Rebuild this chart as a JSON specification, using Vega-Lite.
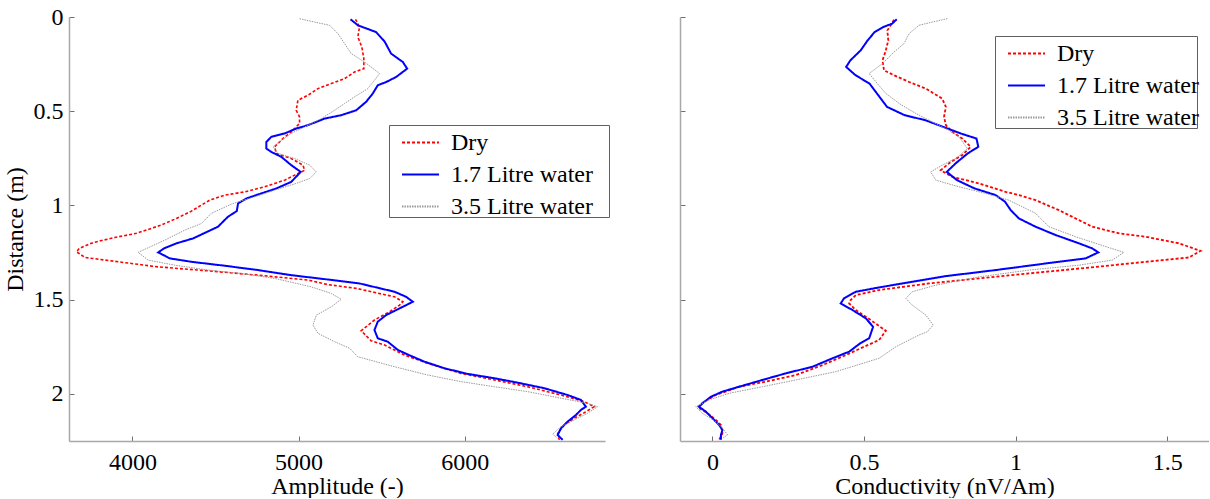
{
"$schema":"https://vega.github.io/schema/vega-lite/v6.json",
"padding":{"left":3,"top":5,"right":0,"bottom":0},
"spacing":69,
"datasets":{
"amp":[
{"s":"Dry","d":0.012,"v":5343},{"s":"Dry","d":0.053,"v":5367},{"s":"Dry","d":0.106,"v":5357},{"s":"Dry","d":0.159,"v":5381},{"s":"Dry","d":0.221,"v":5393},{"s":"Dry","d":0.274,"v":5393},{"s":"Dry","d":0.292,"v":5337},{"s":"Dry","d":0.327,"v":5277},{"s":"Dry","d":0.353,"v":5197},{"s":"Dry","d":0.38,"v":5117},{"s":"Dry","d":0.415,"v":5057},{"s":"Dry","d":0.442,"v":4996},{"s":"Dry","d":0.495,"v":4986},{"s":"Dry","d":0.53,"v":5006},{"s":"Dry","d":0.565,"v":5006},{"s":"Dry","d":0.61,"v":4956},{"s":"Dry","d":0.645,"v":4906},{"s":"Dry","d":0.689,"v":4856},{"s":"Dry","d":0.724,"v":4866},{"s":"Dry","d":0.751,"v":4956},{"s":"Dry","d":0.786,"v":5026},{"s":"Dry","d":0.813,"v":5037},{"s":"Dry","d":0.839,"v":4977},{"s":"Dry","d":0.866,"v":4916},{"s":"Dry","d":0.901,"v":4796},{"s":"Dry","d":0.928,"v":4676},{"s":"Dry","d":0.945,"v":4556},{"s":"Dry","d":0.972,"v":4465},{"s":"Dry","d":1.03,"v":4355},{"s":"Dry","d":1.069,"v":4265},{"s":"Dry","d":1.104,"v":4174},{"s":"Dry","d":1.148,"v":4024},{"s":"Dry","d":1.17,"v":3894},{"s":"Dry","d":1.197,"v":3763},{"s":"Dry","d":1.228,"v":3680},{"s":"Dry","d":1.246,"v":3663},{"s":"Dry","d":1.276,"v":3714},{"s":"Dry","d":1.299,"v":3914},{"s":"Dry","d":1.326,"v":4155},{"s":"Dry","d":1.347,"v":4455},{"s":"Dry","d":1.37,"v":4756},{"s":"Dry","d":1.396,"v":5057},{"s":"Dry","d":1.42,"v":5177},{"s":"Dry","d":1.44,"v":5347},{"s":"Dry","d":1.485,"v":5578},{"s":"Dry","d":1.511,"v":5628},{"s":"Dry","d":1.529,"v":5608},{"s":"Dry","d":1.564,"v":5548},{"s":"Dry","d":1.608,"v":5457},{"s":"Dry","d":1.665,"v":5377},{"s":"Dry","d":1.718,"v":5437},{"s":"Dry","d":1.741,"v":5518},{"s":"Dry","d":1.794,"v":5638},{"s":"Dry","d":1.838,"v":5778},{"s":"Dry","d":1.891,"v":5978},{"s":"Dry","d":1.926,"v":6179},{"s":"Dry","d":1.962,"v":6379},{"s":"Dry","d":2.006,"v":6580},{"s":"Dry","d":2.041,"v":6720},{"s":"Dry","d":2.068,"v":6780},{"s":"Dry","d":2.1,"v":6720},{"s":"Dry","d":2.129,"v":6660},{"s":"Dry","d":2.165,"v":6600},{"s":"Dry","d":2.209,"v":6560},{"s":"Dry","d":2.244,"v":6570},
{"s":"1.7 Litre water","d":0.012,"v":5313},{"s":"1.7 Litre water","d":0.044,"v":5357},{"s":"1.7 Litre water","d":0.08,"v":5467},{"s":"1.7 Litre water","d":0.13,"v":5518},{"s":"1.7 Litre water","d":0.194,"v":5557},{"s":"1.7 Litre water","d":0.239,"v":5628},{"s":"1.7 Litre water","d":0.274,"v":5654},{"s":"1.7 Litre water","d":0.318,"v":5588},{"s":"1.7 Litre water","d":0.345,"v":5528},{"s":"1.7 Litre water","d":0.362,"v":5477},{"s":"1.7 Litre water","d":0.406,"v":5447},{"s":"1.7 Litre water","d":0.45,"v":5407},{"s":"1.7 Litre water","d":0.495,"v":5347},{"s":"1.7 Litre water","d":0.521,"v":5257},{"s":"1.7 Litre water","d":0.539,"v":5157},{"s":"1.7 Litre water","d":0.574,"v":5057},{"s":"1.7 Litre water","d":0.592,"v":4986},{"s":"1.7 Litre water","d":0.618,"v":4916},{"s":"1.7 Litre water","d":0.636,"v":4836},{"s":"1.7 Litre water","d":0.663,"v":4806},{"s":"1.7 Litre water","d":0.698,"v":4806},{"s":"1.7 Litre water","d":0.716,"v":4836},{"s":"1.7 Litre water","d":0.742,"v":4896},{"s":"1.7 Litre water","d":0.786,"v":4956},{"s":"1.7 Litre water","d":0.822,"v":5013},{"s":"1.7 Litre water","d":0.875,"v":4956},{"s":"1.7 Litre water","d":0.91,"v":4866},{"s":"1.7 Litre water","d":0.936,"v":4776},{"s":"1.7 Litre water","d":0.963,"v":4686},{"s":"1.7 Litre water","d":0.989,"v":4636},{"s":"1.7 Litre water","d":1.03,"v":4628},{"s":"1.7 Litre water","d":1.06,"v":4575},{"s":"1.7 Litre water","d":1.113,"v":4515},{"s":"1.7 Litre water","d":1.148,"v":4430},{"s":"1.7 Litre water","d":1.175,"v":4365},{"s":"1.7 Litre water","d":1.201,"v":4265},{"s":"1.7 Litre water","d":1.228,"v":4190},{"s":"1.7 Litre water","d":1.249,"v":4155},{"s":"1.7 Litre water","d":1.281,"v":4225},{"s":"1.7 Litre water","d":1.299,"v":4355},{"s":"1.7 Litre water","d":1.32,"v":4556},{"s":"1.7 Litre water","d":1.343,"v":4756},{"s":"1.7 Litre water","d":1.37,"v":4956},{"s":"1.7 Litre water","d":1.391,"v":5157},{"s":"1.7 Litre water","d":1.414,"v":5367},{"s":"1.7 Litre water","d":1.458,"v":5578},{"s":"1.7 Litre water","d":1.485,"v":5648},{"s":"1.7 Litre water","d":1.511,"v":5688},{"s":"1.7 Litre water","d":1.529,"v":5648},{"s":"1.7 Litre water","d":1.555,"v":5588},{"s":"1.7 Litre water","d":1.582,"v":5527},{"s":"1.7 Litre water","d":1.617,"v":5477},{"s":"1.7 Litre water","d":1.661,"v":5457},{"s":"1.7 Litre water","d":1.705,"v":5477},{"s":"1.7 Litre water","d":1.723,"v":5537},{"s":"1.7 Litre water","d":1.767,"v":5598},{"s":"1.7 Litre water","d":1.799,"v":5678},{"s":"1.7 Litre water","d":1.829,"v":5758},{"s":"1.7 Litre water","d":1.864,"v":5878},{"s":"1.7 Litre water","d":1.894,"v":6019},{"s":"1.7 Litre water","d":1.917,"v":6179},{"s":"1.7 Litre water","d":1.944,"v":6339},{"s":"1.7 Litre water","d":1.97,"v":6480},{"s":"1.7 Litre water","d":2.006,"v":6620},{"s":"1.7 Litre water","d":2.032,"v":6700},{"s":"1.7 Litre water","d":2.068,"v":6730},{"s":"1.7 Litre water","d":2.085,"v":6700},{"s":"1.7 Litre water","d":2.112,"v":6670},{"s":"1.7 Litre water","d":2.147,"v":6620},{"s":"1.7 Litre water","d":2.182,"v":6580},{"s":"1.7 Litre water","d":2.218,"v":6560},{"s":"1.7 Litre water","d":2.244,"v":6590},
{"s":"3.5 Litre water","d":0.009,"v":5006},{"s":"3.5 Litre water","d":0.027,"v":5097},{"s":"3.5 Litre water","d":0.044,"v":5187},{"s":"3.5 Litre water","d":0.088,"v":5237},{"s":"3.5 Litre water","d":0.141,"v":5277},{"s":"3.5 Litre water","d":0.194,"v":5317},{"s":"3.5 Litre water","d":0.239,"v":5397},{"s":"3.5 Litre water","d":0.3,"v":5488},{"s":"3.5 Litre water","d":0.336,"v":5457},{"s":"3.5 Litre water","d":0.38,"v":5417},{"s":"3.5 Litre water","d":0.424,"v":5337},{"s":"3.5 Litre water","d":0.459,"v":5277},{"s":"3.5 Litre water","d":0.495,"v":5217},{"s":"3.5 Litre water","d":0.539,"v":5137},{"s":"3.5 Litre water","d":0.583,"v":5037},{"s":"3.5 Litre water","d":0.618,"v":4956},{"s":"3.5 Litre water","d":0.654,"v":4896},{"s":"3.5 Litre water","d":0.689,"v":4846},{"s":"3.5 Litre water","d":0.724,"v":4876},{"s":"3.5 Litre water","d":0.751,"v":4976},{"s":"3.5 Litre water","d":0.786,"v":5067},{"s":"3.5 Litre water","d":0.822,"v":5107},{"s":"3.5 Litre water","d":0.857,"v":5067},{"s":"3.5 Litre water","d":0.883,"v":4986},{"s":"3.5 Litre water","d":0.919,"v":4856},{"s":"3.5 Litre water","d":0.954,"v":4736},{"s":"3.5 Litre water","d":0.98,"v":4640},{"s":"3.5 Litre water","d":0.993,"v":4595},{"s":"3.5 Litre water","d":1.042,"v":4475},{"s":"3.5 Litre water","d":1.096,"v":4415},{"s":"3.5 Litre water","d":1.131,"v":4315},{"s":"3.5 Litre water","d":1.184,"v":4195},{"s":"3.5 Litre water","d":1.249,"v":4034},{"s":"3.5 Litre water","d":1.29,"v":4094},{"s":"3.5 Litre water","d":1.317,"v":4255},{"s":"3.5 Litre water","d":1.343,"v":4455},{"s":"3.5 Litre water","d":1.361,"v":4655},{"s":"3.5 Litre water","d":1.387,"v":4856},{"s":"3.5 Litre water","d":1.432,"v":5076},{"s":"3.5 Litre water","d":1.467,"v":5197},{"s":"3.5 Litre water","d":1.498,"v":5257},{"s":"3.5 Litre water","d":1.538,"v":5197},{"s":"3.5 Litre water","d":1.582,"v":5107},{"s":"3.5 Litre water","d":1.635,"v":5087},{"s":"3.5 Litre water","d":1.679,"v":5117},{"s":"3.5 Litre water","d":1.723,"v":5217},{"s":"3.5 Litre water","d":1.758,"v":5307},{"s":"3.5 Litre water","d":1.803,"v":5357},{"s":"3.5 Litre water","d":1.856,"v":5578},{"s":"3.5 Litre water","d":1.9,"v":5778},{"s":"3.5 Litre water","d":1.935,"v":5978},{"s":"3.5 Litre water","d":1.962,"v":6179},{"s":"3.5 Litre water","d":1.988,"v":6379},{"s":"3.5 Litre water","d":2.023,"v":6580},{"s":"3.5 Litre water","d":2.05,"v":6740},{"s":"3.5 Litre water","d":2.068,"v":6800},{"s":"3.5 Litre water","d":2.103,"v":6740},{"s":"3.5 Litre water","d":2.138,"v":6660},{"s":"3.5 Litre water","d":2.174,"v":6580},{"s":"3.5 Litre water","d":2.213,"v":6530},{"s":"3.5 Litre water","d":2.236,"v":6560}
],
"cond":[
{"s":"Dry","d":0.014,"v":0.599},{"s":"Dry","d":0.044,"v":0.588},{"s":"Dry","d":0.071,"v":0.577},{"s":"Dry","d":0.124,"v":0.58},{"s":"Dry","d":0.177,"v":0.572},{"s":"Dry","d":0.23,"v":0.561},{"s":"Dry","d":0.283,"v":0.566},{"s":"Dry","d":0.309,"v":0.599},{"s":"Dry","d":0.345,"v":0.649},{"s":"Dry","d":0.38,"v":0.704},{"s":"Dry","d":0.433,"v":0.758},{"s":"Dry","d":0.477,"v":0.77},{"s":"Dry","d":0.53,"v":0.764},{"s":"Dry","d":0.574,"v":0.77},{"s":"Dry","d":0.61,"v":0.791},{"s":"Dry","d":0.645,"v":0.824},{"s":"Dry","d":0.689,"v":0.852},{"s":"Dry","d":0.733,"v":0.824},{"s":"Dry","d":0.769,"v":0.786},{"s":"Dry","d":0.813,"v":0.753},{"s":"Dry","d":0.848,"v":0.791},{"s":"Dry","d":0.883,"v":0.879},{"s":"Dry","d":0.928,"v":0.967},{"s":"Dry","d":0.945,"v":1.011},{"s":"Dry","d":0.972,"v":1.066},{"s":"Dry","d":1.025,"v":1.143},{"s":"Dry","d":1.069,"v":1.198},{"s":"Dry","d":1.113,"v":1.253},{"s":"Dry","d":1.148,"v":1.341},{"s":"Dry","d":1.166,"v":1.429},{"s":"Dry","d":1.201,"v":1.539},{"s":"Dry","d":1.241,"v":1.61},{"s":"Dry","d":1.276,"v":1.572},{"s":"Dry","d":1.299,"v":1.429},{"s":"Dry","d":1.326,"v":1.264},{"s":"Dry","d":1.361,"v":1.044},{"s":"Dry","d":1.387,"v":0.879},{"s":"Dry","d":1.414,"v":0.714},{"s":"Dry","d":1.449,"v":0.549},{"s":"Dry","d":1.476,"v":0.473},{"s":"Dry","d":1.502,"v":0.456},{"s":"Dry","d":1.52,"v":0.451},{"s":"Dry","d":1.555,"v":0.473},{"s":"Dry","d":1.608,"v":0.522},{"s":"Dry","d":1.665,"v":0.572},{"s":"Dry","d":1.714,"v":0.55},{"s":"Dry","d":1.75,"v":0.5},{"s":"Dry","d":1.794,"v":0.44},{"s":"Dry","d":1.847,"v":0.363},{"s":"Dry","d":1.9,"v":0.275},{"s":"Dry","d":1.935,"v":0.176},{"s":"Dry","d":1.962,"v":0.088},{"s":"Dry","d":2.006,"v":0.011},{"s":"Dry","d":2.041,"v":-0.027},{"s":"Dry","d":2.071,"v":-0.049},{"s":"Dry","d":2.103,"v":-0.016},{"s":"Dry","d":2.138,"v":0.011},{"s":"Dry","d":2.165,"v":0.028},{"s":"Dry","d":2.209,"v":0.033},{"s":"Dry","d":2.244,"v":0.022},
{"s":"1.7 Litre water","d":0.012,"v":0.608},{"s":"1.7 Litre water","d":0.035,"v":0.593},{"s":"1.7 Litre water","d":0.053,"v":0.564},{"s":"1.7 Litre water","d":0.08,"v":0.535},{"s":"1.7 Litre water","d":0.124,"v":0.512},{"s":"1.7 Litre water","d":0.177,"v":0.489},{"s":"1.7 Litre water","d":0.23,"v":0.455},{"s":"1.7 Litre water","d":0.265,"v":0.441},{"s":"1.7 Litre water","d":0.309,"v":0.472},{"s":"1.7 Litre water","d":0.353,"v":0.518},{"s":"1.7 Litre water","d":0.415,"v":0.547},{"s":"1.7 Litre water","d":0.477,"v":0.576},{"s":"1.7 Litre water","d":0.521,"v":0.634},{"s":"1.7 Litre water","d":0.548,"v":0.703},{"s":"1.7 Litre water","d":0.583,"v":0.761},{"s":"1.7 Litre water","d":0.618,"v":0.819},{"s":"1.7 Litre water","d":0.645,"v":0.871},{"s":"1.7 Litre water","d":0.689,"v":0.877},{"s":"1.7 Litre water","d":0.724,"v":0.842},{"s":"1.7 Litre water","d":0.777,"v":0.802},{"s":"1.7 Litre water","d":0.822,"v":0.773},{"s":"1.7 Litre water","d":0.866,"v":0.807},{"s":"1.7 Litre water","d":0.91,"v":0.865},{"s":"1.7 Litre water","d":0.945,"v":0.934},{"s":"1.7 Litre water","d":0.98,"v":0.965},{"s":"1.7 Litre water","d":1.025,"v":0.984},{"s":"1.7 Litre water","d":1.069,"v":1.011},{"s":"1.7 Litre water","d":1.113,"v":1.066},{"s":"1.7 Litre water","d":1.157,"v":1.132},{"s":"1.7 Litre water","d":1.201,"v":1.209},{"s":"1.7 Litre water","d":1.228,"v":1.253},{"s":"1.7 Litre water","d":1.249,"v":1.273},{"s":"1.7 Litre water","d":1.281,"v":1.231},{"s":"1.7 Litre water","d":1.308,"v":1.099},{"s":"1.7 Litre water","d":1.343,"v":0.934},{"s":"1.7 Litre water","d":1.375,"v":0.77},{"s":"1.7 Litre water","d":1.405,"v":0.659},{"s":"1.7 Litre water","d":1.435,"v":0.55},{"s":"1.7 Litre water","d":1.458,"v":0.473},{"s":"1.7 Litre water","d":1.493,"v":0.434},{"s":"1.7 Litre water","d":1.52,"v":0.423},{"s":"1.7 Litre water","d":1.555,"v":0.462},{"s":"1.7 Litre water","d":1.599,"v":0.506},{"s":"1.7 Litre water","d":1.644,"v":0.53},{"s":"1.7 Litre water","d":1.705,"v":0.517},{"s":"1.7 Litre water","d":1.732,"v":0.487},{"s":"1.7 Litre water","d":1.776,"v":0.451},{"s":"1.7 Litre water","d":1.811,"v":0.396},{"s":"1.7 Litre water","d":1.856,"v":0.33},{"s":"1.7 Litre water","d":1.891,"v":0.242},{"s":"1.7 Litre water","d":1.926,"v":0.165},{"s":"1.7 Litre water","d":1.962,"v":0.088},{"s":"1.7 Litre water","d":1.988,"v":0.033},{"s":"1.7 Litre water","d":2.015,"v":-0.005},{"s":"1.7 Litre water","d":2.05,"v":-0.033},{"s":"1.7 Litre water","d":2.068,"v":-0.044},{"s":"1.7 Litre water","d":2.094,"v":-0.022},{"s":"1.7 Litre water","d":2.129,"v":0.0},{"s":"1.7 Litre water","d":2.165,"v":0.022},{"s":"1.7 Litre water","d":2.191,"v":0.033},{"s":"1.7 Litre water","d":2.218,"v":0.028},{"s":"1.7 Litre water","d":2.244,"v":0.028},
{"s":"3.5 Litre water","d":0.009,"v":0.775},{"s":"3.5 Litre water","d":0.027,"v":0.725},{"s":"3.5 Litre water","d":0.044,"v":0.681},{"s":"3.5 Litre water","d":0.088,"v":0.649},{"s":"3.5 Litre water","d":0.141,"v":0.632},{"s":"3.5 Litre water","d":0.186,"v":0.599},{"s":"3.5 Litre water","d":0.247,"v":0.561},{"s":"3.5 Litre water","d":0.3,"v":0.517},{"s":"3.5 Litre water","d":0.353,"v":0.544},{"s":"3.5 Litre water","d":0.406,"v":0.572},{"s":"3.5 Litre water","d":0.459,"v":0.616},{"s":"3.5 Litre water","d":0.512,"v":0.671},{"s":"3.5 Litre water","d":0.557,"v":0.725},{"s":"3.5 Litre water","d":0.601,"v":0.78},{"s":"3.5 Litre water","d":0.636,"v":0.813},{"s":"3.5 Litre water","d":0.698,"v":0.841},{"s":"3.5 Litre water","d":0.751,"v":0.803},{"s":"3.5 Litre water","d":0.786,"v":0.758},{"s":"3.5 Litre water","d":0.822,"v":0.72},{"s":"3.5 Litre water","d":0.866,"v":0.737},{"s":"3.5 Litre water","d":0.901,"v":0.813},{"s":"3.5 Litre water","d":0.936,"v":0.901},{"s":"3.5 Litre water","d":0.972,"v":0.978},{"s":"3.5 Litre water","d":1.042,"v":1.066},{"s":"3.5 Litre water","d":1.113,"v":1.11},{"s":"3.5 Litre water","d":1.166,"v":1.198},{"s":"3.5 Litre water","d":1.201,"v":1.264},{"s":"3.5 Litre water","d":1.249,"v":1.357},{"s":"3.5 Litre water","d":1.29,"v":1.319},{"s":"3.5 Litre water","d":1.317,"v":1.209},{"s":"3.5 Litre water","d":1.343,"v":1.044},{"s":"3.5 Litre water","d":1.379,"v":0.879},{"s":"3.5 Litre water","d":1.423,"v":0.737},{"s":"3.5 Litre water","d":1.458,"v":0.659},{"s":"3.5 Litre water","d":1.493,"v":0.638},{"s":"3.5 Litre water","d":1.529,"v":0.659},{"s":"3.5 Litre water","d":1.582,"v":0.704},{"s":"3.5 Litre water","d":1.635,"v":0.728},{"s":"3.5 Litre water","d":1.67,"v":0.709},{"s":"3.5 Litre water","d":1.688,"v":0.681},{"s":"3.5 Litre water","d":1.75,"v":0.605},{"s":"3.5 Litre water","d":1.811,"v":0.55},{"s":"3.5 Litre water","d":1.882,"v":0.407},{"s":"3.5 Litre water","d":1.926,"v":0.275},{"s":"3.5 Litre water","d":1.962,"v":0.165},{"s":"3.5 Litre water","d":1.997,"v":0.055},{"s":"3.5 Litre water","d":2.032,"v":-0.011},{"s":"3.5 Litre water","d":2.068,"v":-0.055},{"s":"3.5 Litre water","d":2.103,"v":-0.033},{"s":"3.5 Litre water","d":2.147,"v":0.011},{"s":"3.5 Litre water","d":2.182,"v":0.033},{"s":"3.5 Litre water","d":2.218,"v":0.05},{"s":"3.5 Litre water","d":2.236,"v":0.033}
]
},
"hconcat":[
{
"width":536,"height":424,
"data":{"name":"amp"},
"encoding":{
"x":{"field":"v","type":"quantitative","scale":{"domain":[3618,6845],"nice":false,"zero":false},"axis":{"title":"Amplitude (-)","values":[4000,5000,6000],"format":"d","labelPadding":14,"titlePadding":0}},
"y":{"field":"d","type":"quantitative","scale":{"domain":[0,2.25],"reverse":true,"nice":false,"zero":false},"axis":{"title":"Distance (m)","values":[0,0.5,1,1.5,2],"format":"~g","labelPadding":11,"titlePadding":6}},
"order":{"field":"d","type":"quantitative"},
"color":{"field":"s","type":"nominal","scale":{"domain":["Dry","1.7 Litre water","3.5 Litre water"],"range":["#ff0000","#0000ff","#9a9a9a"]},"legend":{"orient":"none","legendX":320,"legendY":108,"title":null,"labelExpr":"datum.label + '\u2800'"}},
"strokeDash":{"field":"s","type":"nominal","scale":{"domain":["Dry","1.7 Litre water","3.5 Litre water"],"range":[[3,2],[1,0],[1.5,1]]},"legend":{"orient":"none","legendX":320,"legendY":108,"title":null,"labelExpr":"datum.label + '\u2800'"}}
},
"layer":[
{"transform":[{"filter":"datum.s === 'Dry'"}],"mark":{"type":"line","strokeWidth":1.6,"clip":true}},
{"transform":[{"filter":"datum.s === '1.7 Litre water'"}],"mark":{"type":"line","strokeWidth":2,"clip":true}},
{"transform":[{"filter":"datum.s === '3.5 Litre water'"}],"mark":{"type":"line","strokeWidth":1,"clip":true}}
]
},
{
"width":529,"height":424,
"data":{"name":"cond"},
"encoding":{
"x":{"field":"v","type":"quantitative","scale":{"domain":[-0.107,1.638],"nice":false,"zero":false},"axis":{"title":"Conductivity (nV/Am)","values":[0,0.5,1,1.5],"format":"~g","labelPadding":14,"titlePadding":0}},
"y":{"field":"d","type":"quantitative","scale":{"domain":[0,2.25],"reverse":true,"nice":false,"zero":false},"axis":{"title":null,"labels":false,"values":[0,0.5,1,1.5,2]}},
"order":{"field":"d","type":"quantitative"},
"color":{"field":"s","type":"nominal","scale":{"domain":["Dry","1.7 Litre water","3.5 Litre water"],"range":["#ff0000","#0000ff","#9a9a9a"]},"legend":{"orient":"none","legendX":315,"legendY":19,"title":null}},
"strokeDash":{"field":"s","type":"nominal","scale":{"domain":["Dry","1.7 Litre water","3.5 Litre water"],"range":[[3,2],[1,0],[1.5,1]]},"legend":{"orient":"none","legendX":315,"legendY":19,"title":null}}
},
"layer":[
{"transform":[{"filter":"datum.s === 'Dry'"}],"mark":{"type":"line","strokeWidth":1.8,"clip":true}},
{"transform":[{"filter":"datum.s === '1.7 Litre water'"}],"mark":{"type":"line","strokeWidth":2,"clip":true}},
{"transform":[{"filter":"datum.s === '3.5 Litre water'"}],"mark":{"type":"line","strokeWidth":1,"clip":true}}
]
}
],
"resolve":{"scale":{"color":"independent","strokeDash":"independent"},"legend":{"color":"independent","strokeDash":"independent"}},
"config":{
"view":{"stroke":null},
"font":"Liberation Serif, DejaVu Serif, serif",
"axis":{"labelFont":"Liberation Serif, DejaVu Serif, serif","labelFontSize":24,"labelColor":"#000000","titleFont":"Liberation Serif, DejaVu Serif, serif","titleFontSize":24,"titleFontWeight":"normal","titleColor":"#000000","domainColor":"#a8a8a8","domainWidth":1.5,"tickColor":"#707070","tickSize":-5,"tickWidth":1,"grid":false},
"legend":{"labelFont":"Liberation Serif, DejaVu Serif, serif","labelFontSize":24,"labelColor":"#000000","labelLimit":400,"symbolType":"stroke","symbolSize":1369,"symbolStrokeWidth":1.8,"symbolOffset":14,"labelOffset":11,"rowPadding":-7,"padding":-2,"strokeColor":"#606060","fillColor":"#ffffff","cornerRadius":0}
}
}
